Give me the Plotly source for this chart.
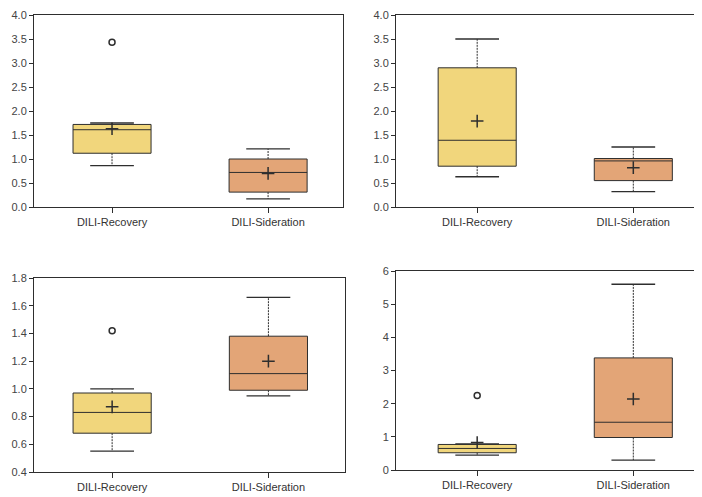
import plotly.graph_objects as go

categories = ["DILI-Recovery", "DILI-Sideration"]

# Per panel (top-left, top-right, bottom-left, bottom-right); each list = [Recovery, Sideration]
lower_whisker = [[0.86, 0.17], [0.63, 0.32], [0.55, 0.95], [0.45, 0.30]]
q1 = [[1.12, 0.31], [0.85, 0.55], [0.68, 0.99], [0.52, 0.98]]
median = [[1.61, 0.72], [1.39, 0.96], [0.83, 1.11], [0.65, 1.44]]
q3 = [[1.72, 1.00], [2.90, 1.01], [0.97, 1.38], [0.77, 3.38]]
upper_whisker = [[1.75, 1.21], [3.50, 1.25], [1.00, 1.66], [0.79, 5.60]]
mean = [[1.63, 0.70], [1.79, 0.82], [0.87, 1.20], [0.83, 2.14]]
outliers = [[3.43, None], [None, None], [1.42, None], [2.25, None]]

y_ranges = [[0, 4], [0, 4], [0.4, 1.8], [0, 6]]
y_dticks = [0.5, 0.5, 0.2, 1]
y_formats = [".1f", ".1f", ".1f", "d"]

fill_colors = ["#f1d67c", "#e3a577"]
line_color = "#2e2e2e"

# page body has an 8px margin; figure is sized to fit the 702x497 window
OFF = 8
W, H = 702 - OFF, 497 - OFF
# panel pixel boxes in window coordinates: (left, right, top, bottom)
panels_px = [(34, 343, 15, 207), (396, 702, 15, 207), (34, 345, 278, 472), (396, 702, 271, 470)]
# x ranges so categories sit at same pixel positions
x_ranges = [[-0.5, 1.48], [-0.52, 1.44], [-0.5, 1.49], [-0.52, 1.44]]
right_border = [True, False, True, False]

fig = go.Figure()
positions = [0, 1]
cap_half = 0.14

for p in range(4):
    xa = "x" if p == 0 else f"x{p+1}"
    ya = "y" if p == 0 else f"y{p+1}"
    for c in range(2):
        fig.add_trace(go.Box(
            x=[positions[c]], q1=[q1[p][c]], median=[median[p][c]], q3=[q3[p][c]],
            lowerfence=[q1[p][c]], upperfence=[q3[p][c]],
            width=0.5, fillcolor=fill_colors[c],
            line=dict(color=line_color, width=1),
            whiskerwidth=0, showlegend=False, xaxis=xa, yaxis=ya,
            hoverinfo="skip",
        ))
        # whiskers (dashed)
        fig.add_trace(go.Scatter(
            x=[positions[c], positions[c], None, positions[c], positions[c]],
            y=[q3[p][c], upper_whisker[p][c], None, q1[p][c], lower_whisker[p][c]],
            mode="lines", line=dict(color=line_color, width=1, dash="2px,1px"),
            showlegend=False, xaxis=xa, yaxis=ya, hoverinfo="skip",
        ))
        # caps
        fig.add_trace(go.Scatter(
            x=[positions[c] - cap_half, positions[c] + cap_half, None,
               positions[c] - cap_half, positions[c] + cap_half],
            y=[upper_whisker[p][c], upper_whisker[p][c], None,
               lower_whisker[p][c], lower_whisker[p][c]],
            mode="lines", line=dict(color=line_color, width=1.3),
            showlegend=False, xaxis=xa, yaxis=ya, hoverinfo="skip",
        ))
    # means
    fig.add_trace(go.Scatter(
        x=positions, y=mean[p], mode="markers",
        marker=dict(symbol="cross-thin-open", size=9, color=line_color,
                    line=dict(color=line_color, width=1.5)),
        showlegend=False, xaxis=xa, yaxis=ya, hoverinfo="skip",
    ))
    # outliers
    ox = [positions[c] for c in range(2) if outliers[p][c] is not None]
    oy = [outliers[p][c] for c in range(2) if outliers[p][c] is not None]
    if ox:
        fig.add_trace(go.Scatter(
            x=ox, y=oy, mode="markers",
            marker=dict(symbol="circle-open", size=6, color=line_color, line=dict(width=1.5)),
            showlegend=False, xaxis=xa, yaxis=ya, hoverinfo="skip",
        ))

    l, r, t, b = [v - OFF for v in panels_px[p]]
    xkey = "xaxis" if p == 0 else f"xaxis{p+1}"
    ykey = "yaxis" if p == 0 else f"yaxis{p+1}"
    fig.update_layout(**{
        xkey: dict(
            domain=[l / W, min(r / W, 1)], range=x_ranges[p], anchor=ya, automargin=False,
            tickmode="array", tickvals=positions, ticktext=categories,
            ticks="outside", ticklen=5, tickcolor=line_color,
            showline=True, linecolor=line_color, linewidth=1, mirror=True,
            showgrid=False, zeroline=False, ticklabeloverflow="allow",
            tickfont=dict(family="Liberation Sans, Arial", size=11, color="#333"),
        ),
        ykey: dict(
            domain=[1 - b / H, 1 - t / H], range=y_ranges[p], anchor=xa, automargin=False,
            dtick=y_dticks[p], tick0=y_ranges[p][0], tickformat=y_formats[p],
            ticks="outside", ticklen=4, tickcolor=line_color,
            showline=True, linecolor=line_color, linewidth=1, mirror=right_border[p],
            showgrid=False, zeroline=False, ticklabeloverflow="allow",
            tickfont=dict(family="Liberation Sans, Arial", size=11, color="#444"),
        ),
    })

fig.update_layout(
    width=W, height=H, margin=dict(l=0, r=0, t=0, b=0),
    plot_bgcolor="white", paper_bgcolor="white", showlegend=False,
)

fig.write_html("out.html")
